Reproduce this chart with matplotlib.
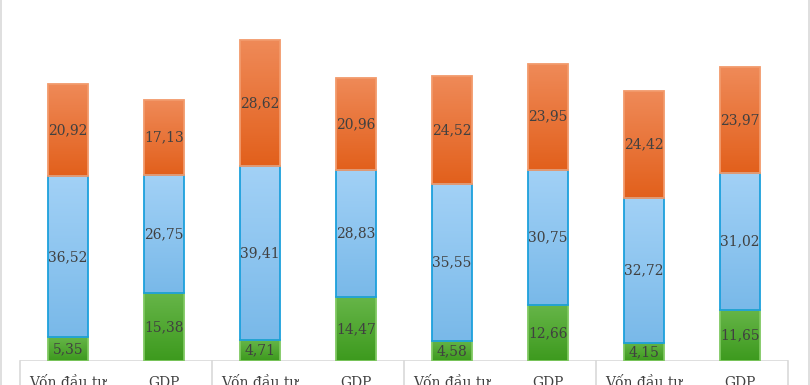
import matplotlib

matplotlib.use("Agg")

import matplotlib.pyplot as plt
import numpy as np
from matplotlib.colors import LinearSegmentedColormap
from matplotlib.lines import Line2D

categories = ["Vốn đầu tư", "GDP", "Vốn đầu tư", "GDP",
              "Vốn đầu tư", "GDP", "Vốn đầu tư", "GDP"]
bottom_vals = [5.35, 15.38, 4.71, 14.47, 4.58, 12.66, 4.15, 11.65]
middle_vals = [36.52, 26.75, 39.41, 28.83, 35.55, 30.75, 32.72, 31.02]
top_vals = [20.92, 17.13, 28.62, 20.96, 24.52, 23.95, 24.42, 23.97]

# (top colour, bottom colour, edge colour)
styles = [
    ("#66b548", "#3d9a1e", "#7fc861"),
    ("#a2d1f6", "#79b9e9", "#1ca0dc"),
    ("#ef8a58", "#e2601c", "#f29a6b"),
]

fig = plt.figure(figsize=(8.1, 3.85), dpi=100)
W, H = 810, 385
ax = fig.add_axes([20 / W, 1 - 361 / H, 768 / W, 361 / H])
for s in ax.spines.values():
    s.set_visible(False)
ax.set_yticks([])

x = np.arange(len(categories))
width = 0.41
base = np.zeros(len(categories))
label_color = "#404040"

for vals, (c_top, c_bot, c_edge) in zip([bottom_vals, middle_vals, top_vals], styles):
    vals = np.array(vals)
    bars = ax.bar(x, vals, width, bottom=base, facecolor="none",
                  edgecolor=c_edge, linewidth=1.3, zorder=3)
    cmap = LinearSegmentedColormap.from_list("g", [c_bot, c_top])
    grad = np.linspace(1, 0, 100).reshape(-1, 1)
    for bar in bars:
        x0, y0 = bar.get_x(), bar.get_y()
        w, h = bar.get_width(), bar.get_height()
        im = ax.imshow(grad, cmap=cmap, vmin=0, vmax=1, aspect="auto",
                       extent=(x0, x0 + w, y0, y0 + h), zorder=2)
        im.set_clip_path(bar)
    for xi, b, v in zip(x, base, vals):
        ax.text(xi, b + v / 2, f"{v:.2f}".replace(".", ","), ha="center",
                va="center", fontsize=10, family="DejaVu Serif",
                color=label_color, zorder=4)
    base = base + vals

ax.set_xlim(-0.5, 7.5)
ax.set_ylim(0, 361 / 4.41)

# category axis with group separators
ax.axhline(0, color="#d9d9d9", linewidth=1.2, zorder=1)
for sep in [-0.5, 1.5, 3.5, 5.5, 7.5]:
    ax.plot([sep, sep], [0, -6], color="#d9d9d9", linewidth=1.2, clip_on=False)

ax.set_xticks(x)
ax.set_xticklabels(categories, fontsize=10, family="DejaVu Serif", color="#404040")
ax.tick_params(axis="x", length=0, pad=10.5)

# outer chart border (left / right visible)
fig.add_artist(Line2D([1 / W, 1 / W], [0, 1], color="#d9d9d9", linewidth=1.2))
fig.add_artist(Line2D([808.5 / W, 808.5 / W], [0, 1], color="#d9d9d9", linewidth=1.2))

fig.savefig("out.png", dpi=100, facecolor="white")
